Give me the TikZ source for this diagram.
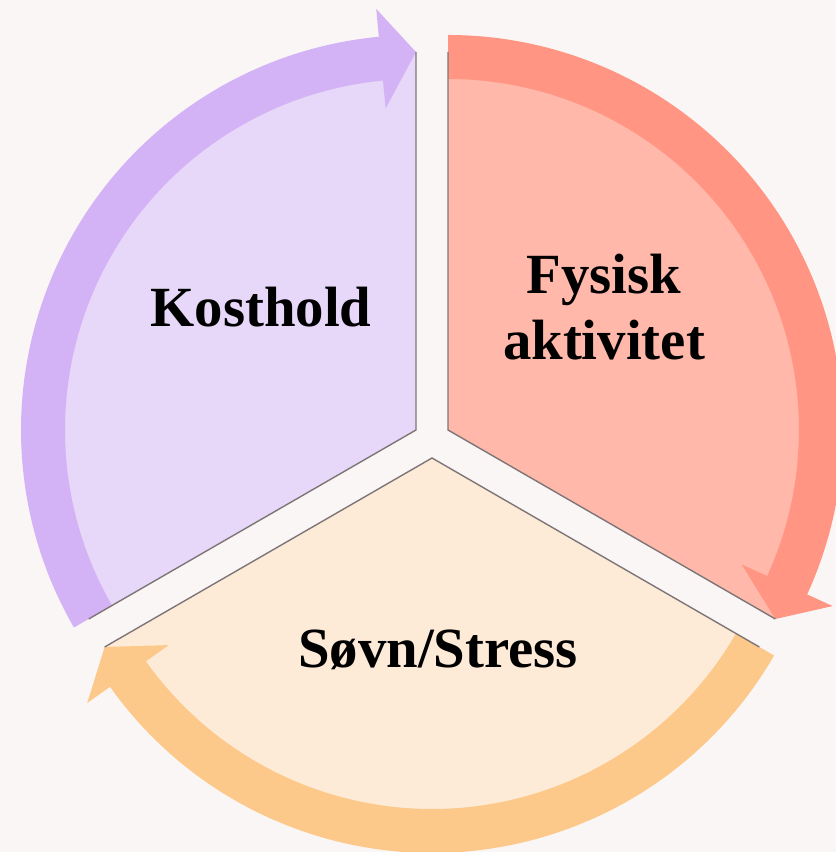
\documentclass[tikz,border=0pt]{standalone}
\usepackage{fontspec}
\setmainfont{Liberation Serif}

\definecolor{pagebg}{HTML}{FAF6F5}
\definecolor{kostFill}{HTML}{E7D7F8}
\definecolor{kostBand}{HTML}{D3B3F5}
\definecolor{fysFill}{HTML}{FFB8AA}
\definecolor{fysBand}{HTML}{FF9582}
\definecolor{sovnFill}{HTML}{FDEBD8}
\definecolor{sovnBand}{HTML}{FCC98A}
\definecolor{edgeGray}{HTML}{7E7676}

\begin{document}
\begin{tikzpicture}[x=1bp,y=1bp,
  part label/.style={font=\bfseries\fontsize{57}{67}\selectfont, text=black,
    inner sep=0pt, align=center},
  edge line/.style={draw=edgeGray, line width=1.4bp, line join=miter},
]
% page
\fill[pagebg] (0,0) rectangle (836,852);
\useasboundingbox (0,0) rectangle (836,852);
\clip (0,0) rectangle (836,852);

% apexes of the three exploded sectors
\coordinate (K) at (416,422);
\coordinate (F) at (448,422);
\coordinate (S) at (432,394);

% sector fills (radius 378)
\begin{scope}[shift={(K)}]
  \fill[kostFill] (0,0) -- (90:378) arc[start angle=90, end angle=210, radius=378] -- cycle;
\end{scope}
\begin{scope}[shift={(F)}]
  \fill[fysFill] (0,0) -- (-30:378) arc[start angle=-30, end angle=90, radius=378] -- cycle;
\end{scope}
\begin{scope}[shift={(S)}]
  \fill[sovnFill] (0,0) -- (210:378) arc[start angle=210, end angle=330, radius=378] -- cycle;
\end{scope}

% curved arrows running clockwise around each sector
\begin{scope}[shift={(K)}]
  \fill[kostBand] (210:351) arc[start angle=210, end angle=95.4, radius=351]
    -- (95.4:323) -- (90:378) -- (95.4:423) -- (95.4:395)
    arc[start angle=95.4, end angle=210, radius=395] -- cycle;
\end{scope}
\begin{scope}[shift={(F)}]
  \fill[fysBand] (90:351) arc[start angle=90, end angle=-24.6, radius=351]
    -- (-24.6:323) -- (-30:378) -- (-24.6:423) -- (-24.6:395)
    arc[start angle=-24.6, end angle=90, radius=395] -- cycle;
\end{scope}
\begin{scope}[shift={(S)}]
  \fill[sovnBand] (330:351) arc[start angle=330, end angle=215.4, radius=351]
    -- (215.4:323) -- (210:378) -- (215.4:423) -- (215.4:395)
    arc[start angle=215.4, end angle=330, radius=395] -- cycle;
\end{scope}

% straight sector edges
\begin{scope}[shift={(K)}]
  \draw[edge line] (90:378) -- (0,0) -- (210:378);
\end{scope}
\begin{scope}[shift={(F)}]
  \draw[edge line] (90:378) -- (0,0) -- (-30:378);
\end{scope}
\begin{scope}[shift={(S)}]
  \draw[edge line] (210:378) -- (0,0) -- (330:378);
\end{scope}

% labels
\node[part label, anchor=base] (kosthold) at (261,525) {Kosthold};
\node[part label, anchor=center] (fysisk) at (604,545) {Fysisk\\aktivitet};
\node[part label, anchor=base] (sovn) at (438,184) {Søvn/Stress};
\end{tikzpicture}
\end{document}
